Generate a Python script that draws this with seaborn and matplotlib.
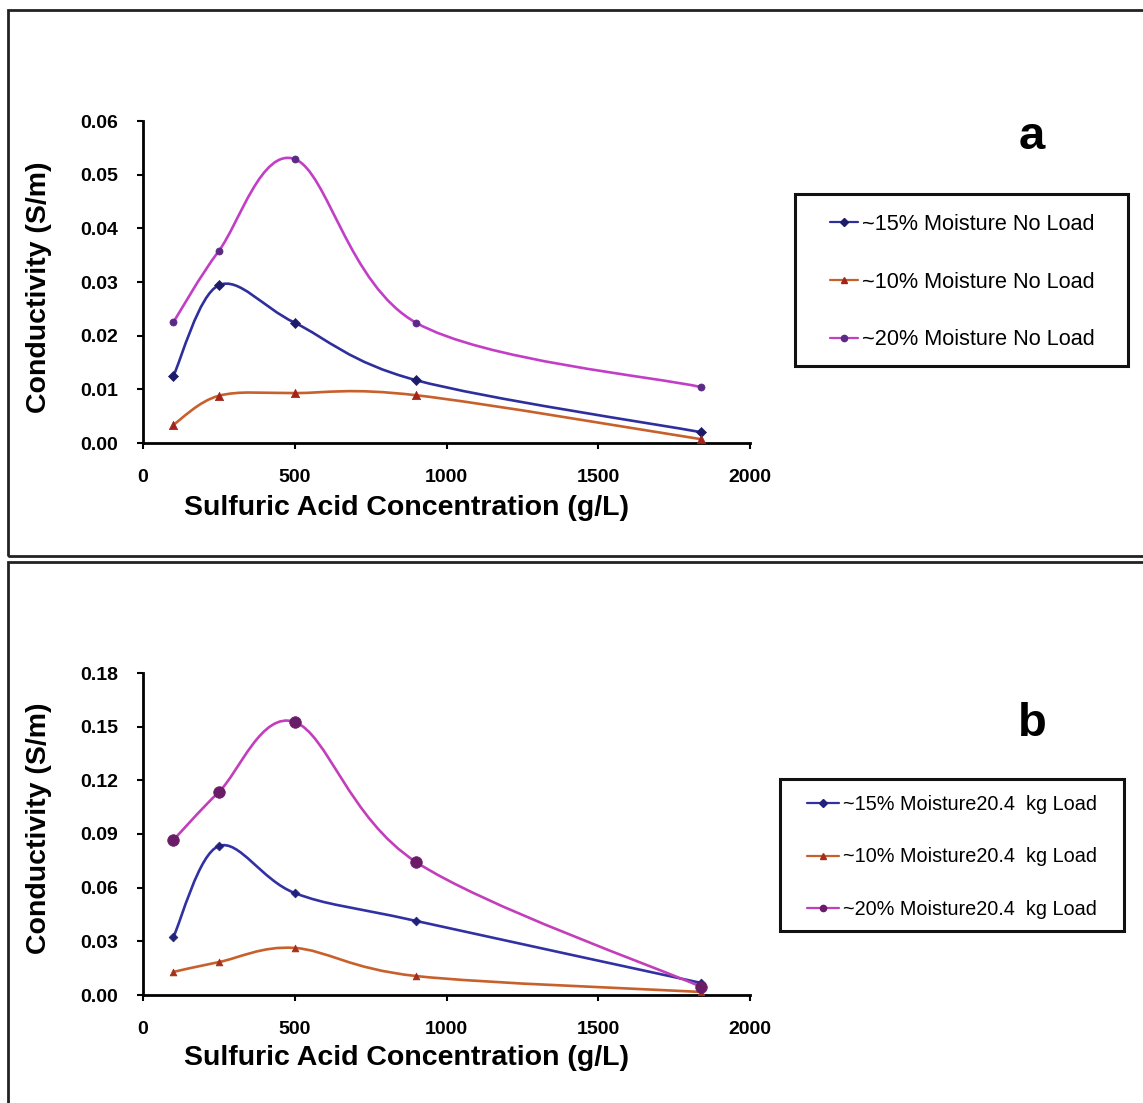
import numpy as np
import pandas as pd
import seaborn as sns
import matplotlib
matplotlib.use("Agg")
import matplotlib.pyplot as plt
from matplotlib.path import Path
from matplotlib.patches import PathPatch, Rectangle
from matplotlib.lines import Line2D

# Sulfuric acid concentration (g/L)
concentration = [100, 250, 500, 900, 1840]

# (a) no load
a_15 = [0.0125, 0.0294, 0.0224, 0.0117, 0.0020]
a_10 = [0.0034, 0.0088, 0.0093, 0.0089, 0.0007]
a_20 = [0.0225, 0.0358, 0.0529, 0.0224, 0.0104]
a_labels = ["~15% Moisture No Load", "~10% Moisture No Load", "~20% Moisture No Load"]

# (b) 20.4 kg load
b_15 = [0.0324, 0.0833, 0.0570, 0.0414, 0.0067]
b_10 = [0.0129, 0.0184, 0.0263, 0.0106, 0.0017]
b_20 = [0.0866, 0.1135, 0.1526, 0.0743, 0.0045]
b_labels = ["~15% Moisture20.4  kg Load", "~10% Moisture20.4  kg Load",
            "~20% Moisture20.4  kg Load"]

a_yticks = [0.00, 0.01, 0.02, 0.03, 0.04, 0.05, 0.06]
b_yticks = [0.00, 0.03, 0.06, 0.09, 0.12, 0.15, 0.18]
xticks = [0, 500, 1000, 1500, 2000]

sns.set_theme(style="white")
plt.rcParams["font.family"] = ["Liberation Sans", "DejaVu Sans"]
plt.rcParams["text.color"] = "black"
plt.rcParams["axes.labelcolor"] = "black"
plt.rcParams["xtick.color"] = "black"
plt.rcParams["ytick.color"] = "black"

W, H = 1143, 1103


def fx(px):
    return px / W


def fy(py):
    return 1 - py / H


def smooth_path(x, y):
    """Catmull-Rom style Bezier path through the points (Excel smoothed line)."""
    pts = np.column_stack([x, y]).astype(float)
    n = len(pts)
    verts = [pts[0]]
    codes = [Path.MOVETO]
    for i in range(n - 1):
        p0 = pts[i - 1] if i > 0 else pts[i]
        p1 = pts[i]
        p2 = pts[i + 1]
        p3 = pts[i + 2] if i + 2 < n else pts[i + 1]
        c1 = p1 + (p2 - p0) / 6.0
        c2 = p2 - (p3 - p1) / 6.0
        verts += [c1, c2, p2]
        codes += [Path.CURVE4] * 3
    return Path(verts, codes)


fig = plt.figure(figsize=(W / 100, H / 100), dpi=100)

# panel frames
fig.add_artist(Rectangle((fx(8), fy(556)), 1.2, 546 / H,
                         transform=fig.transFigure, fill=False,
                         edgecolor="#222222", linewidth=2.0))
fig.add_artist(Rectangle((fx(8), -0.1), 1.2, 0.1 + fy(562),
                         transform=fig.transFigure, fill=False,
                         edgecolor="#222222", linewidth=2.0))


def draw_panel(ax, series, labels, styles, yticks, letter, xlab_y, ylab_y,
               leg):
    for vals, st in zip(series, styles):
        ax.add_patch(PathPatch(smooth_path(concentration, vals), fill=False,
                               edgecolor=st["line"], linewidth=1.9,
                               zorder=2))
        df = pd.DataFrame({"x": concentration, "y": vals})
        sns.scatterplot(data=df, x="x", y="y", ax=ax, marker=st["marker"],
                        s=st["size"], color=st["mark"], edgecolor=st["mark"],
                        linewidth=0.5, zorder=3, legend=False)
    ax.set_xlim(0, 2000)
    ax.set_ylim(yticks[0], yticks[-1])
    ax.set_xticks(xticks)
    ax.set_yticks(yticks)
    ax.set_yticklabels([f"{v:.2f}" for v in yticks])
    ax.tick_params(axis="both", which="major", direction="out", length=4,
                   width=1.5, color="black", labelsize=14,
                   bottom=True, left=True)
    ax.tick_params(axis="x", pad=15)
    ax.tick_params(axis="y", pad=14)
    for t in ax.get_xticklabels() + ax.get_yticklabels():
        t.set_fontweight("bold")
    for s in ["top", "right"]:
        ax.spines[s].set_visible(False)
    for s in ["left", "bottom"]:
        ax.spines[s].set_color("black")
        ax.spines[s].set_linewidth(2.0)
    ax.set_facecolor("white")

    ax.set_xlabel("Sulfuric Acid Concentration (g/L)", fontsize=20.5,
                  fontweight="bold", va="center")
    ax.xaxis.set_label_coords((407 - 143) / 607, xlab_y)
    ax.set_ylabel("Conductivity (S/m)", fontsize=20.5, fontweight="bold",
                  va="center")
    ax.yaxis.set_label_coords((39 - 143) / 607, ylab_y)

    handles = [Line2D([], [], color=st["line"], linewidth=1.6,
                      marker=st["marker"], markersize=4.5,
                      markerfacecolor=st["mark"], markeredgecolor=st["mark"])
               for st in styles]
    lg = ax.legend(handles, labels, loc="center left",
                   bbox_to_anchor=(fx(leg["hx"]), fy(leg["cy"])),
                   bbox_transform=fig.transFigure, frameon=False,
                   fontsize=leg["fs"], handlelength=leg["hl"],
                   handletextpad=0.2, labelspacing=leg["sp"], borderpad=0,
                   borderaxespad=0)
    for t in lg.get_texts():
        t.set_color("black")
    x0, y0, x1, y1 = leg["box"]
    fig.add_artist(Rectangle((fx(x0), fy(y1)), (x1 - x0) / W, (y1 - y0) / H,
                             transform=fig.transFigure, fill=False,
                             edgecolor="#111111", linewidth=2.2))
    fig.text(fx(letter[1]), fy(letter[2]), letter[0], fontsize=34,
             fontweight="bold", ha="center", va="center")


styles_a = [
    dict(line="#2e2e9c", mark="#1c1c6a", marker="D", size=26),
    dict(line="#c8602c", mark="#a3241b", marker="^", size=36),
    dict(line="#c23ec6", mark="#5a2a86", marker="o", size=26),
]
styles_b = [
    dict(line="#3131a4", mark="#22227a", marker="D", size=20),
    dict(line="#c8602c", mark="#a3301b", marker="^", size=24),
    dict(line="#c23ebb", mark="#6a1c68", marker="o", size=70),
]

ax_a = fig.add_axes([fx(143), fy(443), 607 / W, 322 / H])
ax_b = fig.add_axes([fx(143), fy(995), 607 / W, 322 / H])

draw_panel(ax_a, [a_15, a_10, a_20], a_labels, styles_a, a_yticks,
           ("a", 1032, 137), (443 - 508) / 322, (443 - 287) / 322,
           dict(hx=830, cy=282, fs=15.6, hl=1.3, sp=1.7,
                box=(795, 194, 1128, 366)))
draw_panel(ax_b, [b_15, b_10, b_20], b_labels, styles_b, b_yticks,
           ("b", 1032, 724), (995 - 1058) / 322, (995 - 828) / 322,
           dict(hx=807, cy=857, fs=14.3, hl=1.6, sp=1.7,
                box=(780, 779, 1124, 931)))

fig.savefig("out.png", dpi=100, facecolor="white")
